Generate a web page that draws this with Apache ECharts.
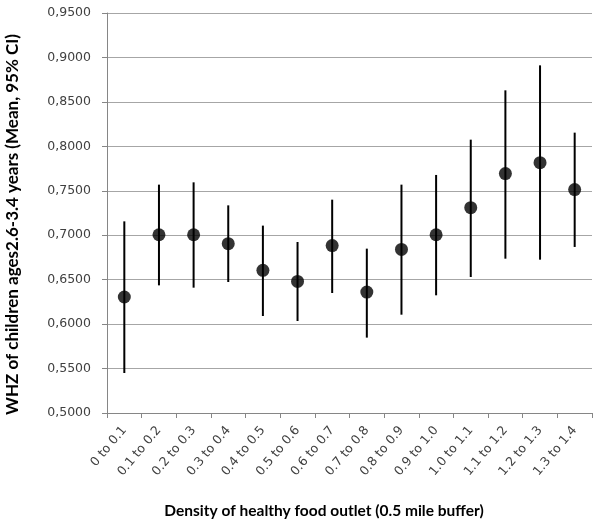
<!DOCTYPE html>
<html>
<head>
<meta charset="utf-8">
<script src="https://cdn.jsdelivr.net/npm/echarts@6/dist/echarts.min.js"></script>
<style>
  html, body { margin: 0; padding: 0; background: #fff; }
  #chart { width: 601px; height: 525px; }
</style>
</head>
<body>
<div id="chart"></div>
<script>
// categories along the x axis
const categories = ['0 to 0.1', '0.1 to 0.2', '0.2 to 0.3', '0.3 to 0.4', '0.4 to 0.5',
  '0.5 to 0.6', '0.6 to 0.7', '0.7 to 0.8', '0.8 to 0.9', '0.9 to 1.0',
  '1.0 to 1.1', '1.1 to 1.2', '1.2 to 1.3', '1.3 to 1.4'];
// mean WHZ and 95% CI bounds
const means = [0.6305, 0.7005, 0.7005, 0.6905, 0.6605, 0.6480, 0.6883,
  0.6360, 0.6840, 0.7005, 0.7310, 0.7693, 0.7816, 0.7513];
const lower = [0.5450, 0.6436, 0.6410, 0.6474, 0.6091, 0.6035, 0.6350,
  0.5848, 0.6106, 0.6324, 0.6530, 0.6736, 0.6725, 0.6868];
const upper = [0.7156, 0.7569, 0.7595, 0.7336, 0.7108, 0.6924, 0.7400,
  0.6849, 0.7569, 0.7678, 0.8075, 0.8630, 0.8911, 0.8154];

const yTitle = 'WHZ of children ages2.6-3.4 years (Mean, 95% CI)';
const xTitle = 'Density of healthy food outlet (0.5 mile buffer)';

const chart = echarts.init(document.getElementById('chart'));
const tickFont = '"DejaVu Sans", sans-serif';
const titleFont = 'Lato, "Open Sans", sans-serif';

const barData = categories.map((c, i) => [i, lower[i], upper[i]]);

const option = {
  animation: false,
  backgroundColor: '#fff',
  grid: { left: 107, right: 9, top: 13, bottom: 112 },
  xAxis: {
    type: 'category',
    data: categories,
    boundaryGap: true,
    axisLine: { lineStyle: { color: '#868686', width: 1 } },
    axisTick: { show: true, alignWithLabel: false, length: 5, lineStyle: { color: '#868686' } },
    axisLabel: {
      interval: 0, rotate: 50, color: '#404040', fontSize: 12.5, fontFamily: tickFont, margin: 15
    },
    splitLine: { show: false }
  },
  yAxis: {
    type: 'value',
    min: 0.5,
    max: 0.95,
    interval: 0.05,
    axisLine: { show: true, lineStyle: { color: '#868686', width: 1 } },
    axisTick: { show: true, length: 5, lineStyle: { color: '#868686' } },
    axisLabel: {
      color: '#404040', fontSize: 12.5, fontFamily: tickFont, margin: 16,
      formatter: v => v.toFixed(4).replace('.', ',')
    },
    splitLine: { lineStyle: { color: '#a6a6a6', width: 1 } }
  },
  graphic: [
    {
      type: 'text',
      x: 12.5, y: 224.5, rotation: Math.PI / 2,
      style: {
        text: yTitle, fill: '#000', font: 'bold 17px ' + titleFont,
        textAlign: 'center', textVerticalAlign: 'middle'
      }
    },
    {
      type: 'text',
      x: 324, y: 511,
      style: {
        text: xTitle, fill: '#000', font: 'bold 15.5px ' + titleFont,
        textAlign: 'center', textVerticalAlign: 'middle'
      }
    }
  ],
  series: [
    {
      type: 'custom',
      data: barData,
      encode: { x: 0, y: [1, 2] },
      renderItem: (params, api) => {
        const lo = api.coord([api.value(0), api.value(1)]);
        const hi = api.coord([api.value(0), api.value(2)]);
        return {
          type: 'line',
          shape: { x1: lo[0], y1: lo[1], x2: hi[0], y2: hi[1] },
          style: { stroke: '#000', lineWidth: 2 }
        };
      },
      z: 2
    },
    {
      type: 'scatter',
      data: means,
      symbol: 'circle',
      symbolSize: 13,
      itemStyle: { color: '#000' },
      z: 3
    }
  ]
};
chart.setOption(option);
</script>
</body>
</html>
